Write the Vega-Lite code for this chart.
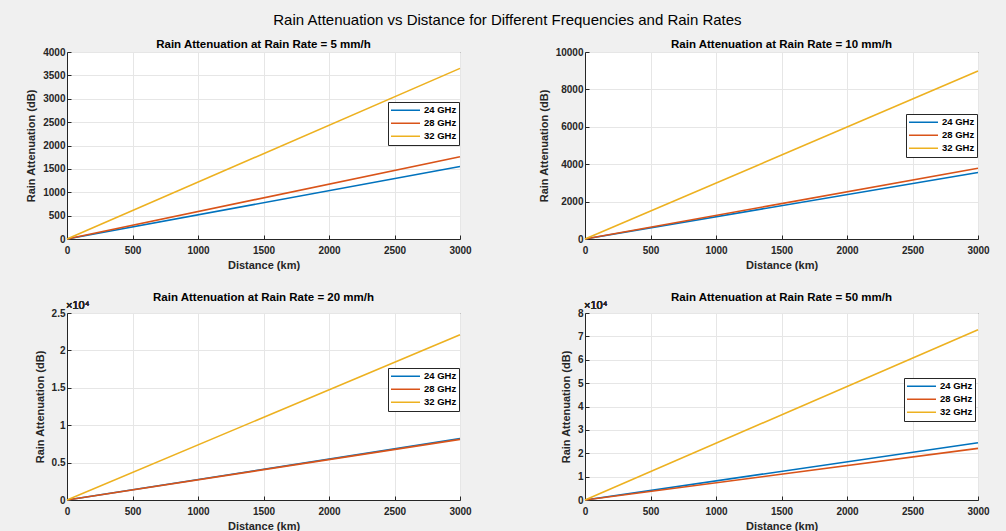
{
  "$schema": "https://vega.github.io/schema/vega-lite/v6.json",
  "background": "#f0f0f0",
  "padding": {"left": 25, "top": 13, "right": 17, "bottom": 2},
  "title": {"text": "Rain Attenuation vs Distance for Different Frequencies and Rain Rates", "fontSize": 15, "fontWeight": "normal", "anchor": "middle", "offset": 10, "color": "#000000"},
  "bounds": "flush",
  "columns": 2,
  "spacing": {"row": 74, "column": 125},
  "resolve": {"scale": {"color": "independent"}, "legend": {"color": "independent"}},
  "datasets": {
    "atten": [
      {"rate": 5, "freq": "24 GHz", "distance": 0, "atten": 0},
      {"rate": 5, "freq": "24 GHz", "distance": 3000, "atten": 1550},
      {"rate": 5, "freq": "28 GHz", "distance": 0, "atten": 0},
      {"rate": 5, "freq": "28 GHz", "distance": 3000, "atten": 1760},
      {"rate": 5, "freq": "32 GHz", "distance": 0, "atten": 0},
      {"rate": 5, "freq": "32 GHz", "distance": 3000, "atten": 3650},
      {"rate": 10, "freq": "24 GHz", "distance": 0, "atten": 0},
      {"rate": 10, "freq": "24 GHz", "distance": 3000, "atten": 3560},
      {"rate": 10, "freq": "28 GHz", "distance": 0, "atten": 0},
      {"rate": 10, "freq": "28 GHz", "distance": 3000, "atten": 3780},
      {"rate": 10, "freq": "32 GHz", "distance": 0, "atten": 0},
      {"rate": 10, "freq": "32 GHz", "distance": 3000, "atten": 8980},
      {"rate": 20, "freq": "24 GHz", "distance": 0, "atten": 0},
      {"rate": 20, "freq": "24 GHz", "distance": 3000, "atten": 8200},
      {"rate": 20, "freq": "28 GHz", "distance": 0, "atten": 0},
      {"rate": 20, "freq": "28 GHz", "distance": 3000, "atten": 8100},
      {"rate": 20, "freq": "32 GHz", "distance": 0, "atten": 0},
      {"rate": 20, "freq": "32 GHz", "distance": 3000, "atten": 22100},
      {"rate": 50, "freq": "24 GHz", "distance": 0, "atten": 0},
      {"rate": 50, "freq": "24 GHz", "distance": 3000, "atten": 24500},
      {"rate": 50, "freq": "28 GHz", "distance": 0, "atten": 0},
      {"rate": 50, "freq": "28 GHz", "distance": 3000, "atten": 22100},
      {"rate": 50, "freq": "32 GHz", "distance": 0, "atten": 0},
      {"rate": 50, "freq": "32 GHz", "distance": 3000, "atten": 72800}
    ]
  },
  "config": {
    "font": "Liberation Sans",
    "view": {"fill": "white", "stroke": "#262626", "strokeWidth": 1},
    "title": {"fontSize": 11.5, "fontWeight": "bold", "offset": -3, "color": "#000000"},
    "axis": {
      "labelFontSize": 10, "labelFontWeight": "bold", "labelColor": "#262626", "labelOverlap": false,
      "titleFontSize": 11, "titleFontWeight": "bold", "titleColor": "#262626",
      "domainColor": "#262626", "tickColor": "#262626", "tickSize": -4,
      "gridColor": "#e6e6e6", "labelPadding": 6
    },
    "axisX": {"titlePadding": 4, "labelFlush": false, "labelPadding": 10, "format": "d"},
    "axisY": {"titlePadding": 6},
    "legend": {
      "fillColor": "white", "strokeColor": "#262626", "padding": 2,
      "labelFontSize": 9.5, "labelFontWeight": "bold", "labelColor": "#000000",
      "symbolType": "stroke", "symbolSize": 841, "symbolStrokeWidth": 2,
      "rowPadding": 0, "labelOffset": 3, "clipHeight": 12.5
    },
    "line": {"strokeWidth": 1.6}
  },
  "concat": [
    {
      "title": "Rain Attenuation at Rain Rate = 5 mm/h",
      "width": 393, "height": 187,
      "data": {"name": "atten"},
      "transform": [{"filter": "datum.rate == 5"}],
      "mark": {"type": "line"},
      "encoding": {
        "x": {"field": "distance", "type": "quantitative", "scale": {"domain": [0, 3000], "nice": false}, "axis": {"values": [0, 500, 1000, 1500, 2000, 2500, 3000], "title": "Distance (km)"}},
        "y": {"field": "atten", "type": "quantitative", "scale": {"domain": [0, 4000], "nice": false}, "axis": {"values": [0, 500, 1000, 1500, 2000, 2500, 3000, 3500, 4000], "format": "d", "title": "Rain Attenuation (dB)"}},
        "color": {"field": "freq", "type": "nominal", "scale": {"domain": ["24 GHz", "28 GHz", "32 GHz"], "range": ["#0072BD", "#D95319", "#EDB120"]}, "legend": {"title": null, "orient": "none", "legendX": 321, "legendY": 50}}
      }
    },
    {
      "title": "Rain Attenuation at Rain Rate = 10 mm/h",
      "width": 393, "height": 187,
      "data": {"name": "atten"},
      "transform": [{"filter": "datum.rate == 10"}],
      "mark": {"type": "line"},
      "encoding": {
        "x": {"field": "distance", "type": "quantitative", "scale": {"domain": [0, 3000], "nice": false}, "axis": {"values": [0, 500, 1000, 1500, 2000, 2500, 3000], "title": "Distance (km)"}},
        "y": {"field": "atten", "type": "quantitative", "scale": {"domain": [0, 10000], "nice": false}, "axis": {"values": [0, 2000, 4000, 6000, 8000, 10000], "format": "d", "title": "Rain Attenuation (dB)"}},
        "color": {"field": "freq", "type": "nominal", "scale": {"domain": ["24 GHz", "28 GHz", "32 GHz"], "range": ["#0072BD", "#D95319", "#EDB120"]}, "legend": {"title": null, "orient": "none", "legendX": 321, "legendY": 62}}
      }
    },
    {
      "title": "Rain Attenuation at Rain Rate = 20 mm/h",
      "width": 393, "height": 187,
      "data": {"name": "atten"},
      "transform": [{"filter": "datum.rate == 20"}],
      "layer": [
        {
          "mark": {"type": "line"},
          "encoding": {
            "x": {"field": "distance", "type": "quantitative", "scale": {"domain": [0, 3000], "nice": false}, "axis": {"values": [0, 500, 1000, 1500, 2000, 2500, 3000], "title": "Distance (km)"}},
            "y": {"field": "atten", "type": "quantitative", "scale": {"domain": [0, 25000], "nice": false}, "axis": {"values": [0, 5000, 10000, 15000, 20000, 25000], "labelExpr": "'' + (datum.value / 10000)", "title": "Rain Attenuation (dB)"}},
            "color": {"field": "freq", "type": "nominal", "scale": {"domain": ["24 GHz", "28 GHz", "32 GHz"], "range": ["#0072BD", "#D95319", "#EDB120"]}, "legend": {"title": null, "orient": "none", "legendX": 321, "legendY": 55}}
          }
        },
        {
          "mark": {"type": "text", "text": "×10⁴", "align": "left", "baseline": "bottom", "dx": -1, "dy": -2, "fontSize": 11, "color": "#262626"},
          "encoding": {
            "x": {"datum": 0, "type": "quantitative", "scale": {"domain": [0, 3000], "nice": false}, "axis": {"values": [0, 500, 1000, 1500, 2000, 2500, 3000], "title": "Distance (km)"}},
            "y": {"datum": 25000, "type": "quantitative", "scale": {"domain": [0, 25000], "nice": false}, "axis": {"values": [0, 5000, 10000, 15000, 20000, 25000], "labelExpr": "'' + (datum.value / 10000)", "title": "Rain Attenuation (dB)"}}
          }
        }
      ]
    },
    {
      "title": "Rain Attenuation at Rain Rate = 50 mm/h",
      "width": 393, "height": 187,
      "data": {"name": "atten"},
      "transform": [{"filter": "datum.rate == 50"}],
      "layer": [
        {
          "mark": {"type": "line"},
          "encoding": {
            "x": {"field": "distance", "type": "quantitative", "scale": {"domain": [0, 3000], "nice": false}, "axis": {"values": [0, 500, 1000, 1500, 2000, 2500, 3000], "title": "Distance (km)"}},
            "y": {"field": "atten", "type": "quantitative", "scale": {"domain": [0, 80000], "nice": false}, "axis": {"values": [0, 10000, 20000, 30000, 40000, 50000, 60000, 70000, 80000], "labelExpr": "'' + (datum.value / 10000)", "title": "Rain Attenuation (dB)"}},
            "color": {"field": "freq", "type": "nominal", "scale": {"domain": ["24 GHz", "28 GHz", "32 GHz"], "range": ["#0072BD", "#D95319", "#EDB120"]}, "legend": {"title": null, "orient": "none", "legendX": 319, "legendY": 65}}
          }
        },
        {
          "mark": {"type": "text", "text": "×10⁴", "align": "left", "baseline": "bottom", "dx": -1, "dy": -2, "fontSize": 11, "color": "#262626"},
          "encoding": {
            "x": {"datum": 0, "type": "quantitative", "scale": {"domain": [0, 3000], "nice": false}, "axis": {"values": [0, 500, 1000, 1500, 2000, 2500, 3000], "title": "Distance (km)"}},
            "y": {"datum": 80000, "type": "quantitative", "scale": {"domain": [0, 80000], "nice": false}, "axis": {"values": [0, 10000, 20000, 30000, 40000, 50000, 60000, 70000, 80000], "labelExpr": "'' + (datum.value / 10000)", "title": "Rain Attenuation (dB)"}}
          }
        }
      ]
    }
  ]
}
